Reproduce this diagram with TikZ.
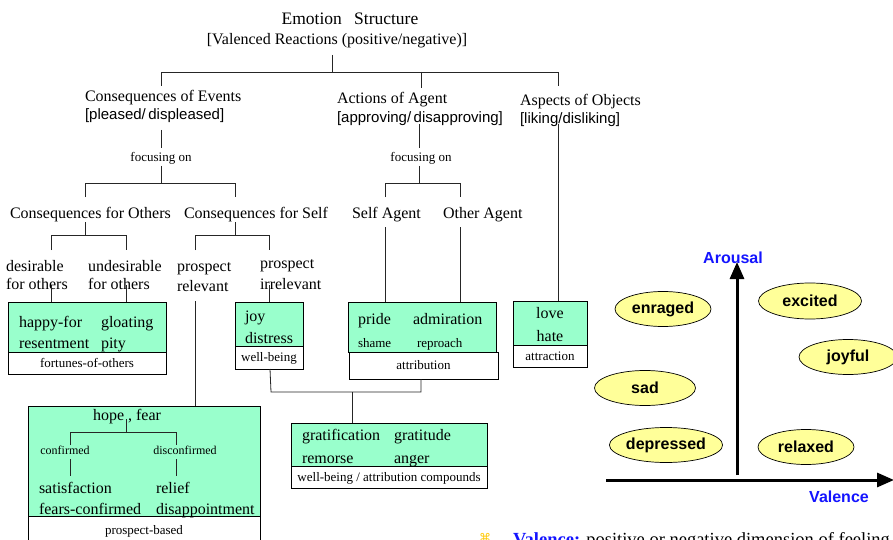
\documentclass[tikz,border=0pt]{standalone}
\usepackage{fontspec}
\setmainfont{Liberation Serif}
\setsansfont{Liberation Sans}
\newfontfamily\symbolfont{DejaVu Sans}
\usetikzlibrary{shapes.geometric,arrows.meta}
\definecolor{boxgreen}{RGB}{153,255,204}
\definecolor{moodyellow}{RGB}{255,255,153}
\definecolor{axisblue}{RGB}{20,20,255}
\definecolor{bulletgold}{RGB}{255,200,0}

\begin{document}
\begin{tikzpicture}[x=1pt,y=-1pt,
  base/.style={inner sep=0pt, outer sep=0pt},
  titletext/.style={base, font=\fontsize{17.5}{20}\selectfont, text height=12.5pt, text depth=2pt},
  tx/.style={base, font=\fontsize{16}{18}\selectfont, text height=12pt, text depth=1.5pt},
  txl/.style={tx, anchor=west},
  sm/.style={base, font=\fontsize{13}{15}\selectfont, text height=10pt, text depth=2pt},
  sml/.style={sm, anchor=west},
  tiny/.style={base, font=\fontsize{12}{14}\selectfont, text height=9pt, text depth=2pt},
  br/.style={base, anchor=west, font=\sffamily\fontsize{15}{17}\selectfont, text height=12pt, text depth=2pt},
  gbox/.style={draw=black, fill=boxgreen, line width=0.8pt, anchor=north west, base},
  wbox/.style={draw=black, fill=white, line width=0.8pt, anchor=north west, base},
  conn/.style={draw=black!85, line width=0.8pt},
  mood/.style={ellipse, draw=black, fill=moodyellow, line width=0.7pt, inner sep=0pt,
    minimum height=35pt, font=\sffamily\bfseries\fontsize{16}{18}\selectfont},
  axis/.style={line width=3pt, -{Triangle[length=17pt,width=14pt]}},
  axlbl/.style={base, font=\sffamily\bfseries\fontsize{16}{18}\selectfont, text=axisblue}
]
\useasboundingbox (0,0) rectangle (893,540);
\fill[white] (0,0) rectangle (893,540);

% ---------- root ----------
\node[titletext] (title) at (350,19) {Emotion\hspace{0.7em}Structure};
\node[tx] (vr) at (337,39) {[Valenced Reactions (positive/negative)]};
\coordinate (rootTop) at (332,55);
\coordinate (rootJ) at (332,72);
\coordinate (evJ) at (161,72);
\coordinate (agJ) at (421,72);
\coordinate (obJ) at (558,72);
\coordinate (evD) at (161,86);
\coordinate (agD) at (421,88);
\coordinate (obD) at (558,86);
\draw[conn] (rootTop) -- (rootJ);
\draw[conn] (evD) -- (evJ) -- (obJ) -- (obD);
\draw[conn] (agJ) -- (agD);

% ---------- three branches ----------
\node[txl] (ev) at (85,96) {Consequences of Events};
\node[br] (evb) at (85,115) {[pleased/\,displeased]};
\node[txl] (ag) at (337,98) {Actions of Agent};
\node[br] (agb) at (337,118) {[approving/\,disapproving]};
\node[txl] (ob) at (520,100) {Aspects of Objects};
\node[br] (obb) at (520,119) {[liking/disliking]};

\node[sm] (foc1) at (161,158) {focusing on};
\node[sm] (foc2) at (421,158) {focusing on};
\coordinate (ev1) at (161,130); \coordinate (ev2) at (161,148);
\coordinate (ev3) at (161,166); \coordinate (ev4) at (161,183);
\coordinate (ag1) at (419,124); \coordinate (ag2) at (419,148);
\coordinate (ag3) at (419,166); \coordinate (ag4) at (419,183);
\draw[conn] (ev1) -- (ev2);
\draw[conn] (ev3) -- (ev4);
\draw[conn] (ag1) -- (ag2);
\draw[conn] (ag3) -- (ag4);

% consequences of events: others / self
\coordinate (othJ) at (85,183); \coordinate (selfJ) at (235,183);
\coordinate (othD) at (85,197); \coordinate (selfD) at (235,197);
\draw[conn] (othD) -- (othJ) -- (selfJ) -- (selfD);
\node[txl] (oth) at (10,213) {Consequences for Others};
\node[txl] (self) at (184,213) {Consequences for Self};

% actions of agent: self / other
\coordinate (saJ) at (385,183); \coordinate (oaJ) at (460,183);
\coordinate (saD) at (385,197); \coordinate (oaD) at (460,197);
\draw[conn] (saD) -- (saJ) -- (oaJ) -- (oaD);
\node[txl] (sa) at (352,213) {Self Agent};
\node[txl] (oa) at (443,213) {Other Agent};

% ---------- fourth level ----------
\coordinate (o0) at (85,222); \coordinate (o1) at (85,235);
\coordinate (oL) at (51,235); \coordinate (oR) at (126,235);
\coordinate (oLd) at (51,250); \coordinate (oRd) at (126,250);
\draw[conn] (o0) -- (o1);
\draw[conn] (oLd) -- (oL) -- (oR) -- (oRd);
\coordinate (s0) at (235,222); \coordinate (s1) at (235,235);
\coordinate (sL) at (195,235); \coordinate (sR) at (269,235);
\coordinate (sLd) at (195,250); \coordinate (sRd) at (269,250);
\draw[conn] (s0) -- (s1);
\draw[conn] (sLd) -- (sL) -- (sR) -- (sRd);

\node[txl] (des1) at (6,266) {desirable};
\node[txl] (des2) at (6,284) {for others};
\node[txl] (und1) at (88,266) {undesirable};
\node[txl] (und2) at (88,284) {for others};
\node[txl] (pr1) at (177,266) {prospect};
\node[txl] (pr2) at (177,286) {relevant};
\node[txl] (pi1) at (260,263) {prospect};
\node[txl] (pi2) at (260,284) {irrelevant};

% ---------- fortunes-of-others ----------
\node[gbox, minimum width=158pt, minimum height=50pt] (foG) at (8,302) {};
\node[wbox, minimum width=158pt, minimum height=22pt] (foW) at (8,352) {};
\node[txl] at (19,322) {happy-for};
\node[txl] at (101,322) {gloating};
\node[txl] at (19,343) {resentment};
\node[txl] at (101,343) {pity};
\node[sm] (foL) at (foW.center) {fortunes-of-others};
\coordinate (d1) at (51,285); \coordinate (d2) at (126,285);
\draw[conn] (d1) -- (d1 |- foG.north);
\draw[conn] (d2) -- (d2 |- foG.north);

% ---------- well-being ----------
\node[gbox, minimum width=68pt, minimum height=44pt] (wbG) at (235,302) {};
\node[wbox, minimum width=68pt, minimum height=23pt] (wbW) at (235,346) {};
\node[txl] at (245,316) {joy};
\node[txl] at (245,338) {distress};
\node[sm] (wbL) at (wbW.center) {well-being};
\coordinate (d3) at (269,285);
\draw[conn] (d3) -- (d3 |- wbG.north);

% ---------- attribution ----------
\node[gbox, minimum width=148pt, minimum height=50pt] (atG) at (348,302) {};
\node[wbox, minimum width=149pt, minimum height=27pt] (atW) at (349,352) {};
\node[txl] at (358,319) {pride};
\node[txl] at (413,319) {admiration};
\node[sml] at (358,343) {shame};
\node[sml] at (417,343) {reproach};
\node[sm] (atL) at (atW.center) {attribution};
\coordinate (d4) at (385,227); \coordinate (d5) at (460,227);
\draw[conn] (d4) -- (d4 |- atG.north);
\draw[conn] (d5) -- (d5 |- atG.north);

% ---------- attraction ----------
\node[gbox, minimum width=74pt, minimum height=44pt] (lvG) at (513,301) {};
\node[wbox, minimum width=74pt, minimum height=22pt] (lvW) at (513,345) {};
\node[tx] at (550,313) {love};
\node[tx] at (550,336) {hate};
\node[sm] (lvL) at (lvW.center) {attraction};
\coordinate (d6) at (558,124);
\draw[conn] (d6) -- (d6 |- lvG.north);

% ---------- well-being / attribution compounds ----------
\coordinate (cJ1) at (271,392); \coordinate (cJ2) at (421,392);
\coordinate (cJm) at (352,392);
\draw[conn] (wbW.south -| 270,0) -- (cJ1) -- (cJ2) -- (atW.south -| cJ2);
\node[gbox, minimum width=196pt, minimum height=43pt] (cpG) at (291,423) {};
\node[wbox, minimum width=196pt, minimum height=22pt] (cpW) at (291,466) {};
\node[txl] at (302,435) {gratification};
\node[txl] at (394,435) {gratitude};
\node[txl] at (302,458) {remorse};
\node[txl] at (394,458) {anger};
\node[sm] (cpL) at (cpW.center) {well-being / attribution compounds};
\draw[conn] (cJm) -- (cJm |- cpG.north);

% ---------- prospect-based ----------
\node[gbox, minimum width=232pt, minimum height=110pt] (pbG) at (28,406) {};
\node[wbox, minimum width=232pt, minimum height=30pt] (pbW) at (28,516) {};
\coordinate (d7) at (195,301);
\draw[conn] (d7) -- (d7 |- pbG.north);
\node[tx] (hf) at (127,415) {hope , fear};
\coordinate (h0) at (126,419); \coordinate (h1) at (126,432);
\coordinate (hL) at (70,432); \coordinate (hR) at (176,432);
\coordinate (hLd) at (70,445); \coordinate (hRd) at (176,445);
\draw[conn] (h0) -- (h1);
\draw[conn] (hLd) -- (hL) -- (hR) -- (hRd);
\node[tiny] (cf) at (65,451) {confirmed};
\node[tiny] (dcf) at (185,451) {disconfirmed};
\coordinate (c1) at (70,459); \coordinate (c2) at (70,476);
\coordinate (c3) at (176,459); \coordinate (c4) at (176,476);
\draw[conn] (c1) -- (c2);
\draw[conn] (c3) -- (c4);
\node[txl] at (39,488) {satisfaction};
\node[txl] at (156,488) {relief};
\node[txl] at (39,509) {fears-confirmed};
\node[txl] at (156,509) {disappointment};
\node[sm] (pbL) at (144,530) {prospect-based};

% ---------- valence / arousal plane ----------
\coordinate (yFoot) at (737,475); \coordinate (yTip) at (737,262);
\coordinate (xFoot) at (606,480); \coordinate (xTip) at (894,480);
\draw[axis] (yFoot) -- (yTip);
\draw[axis] (xFoot) -- (xTip);
\node[axlbl] (arousal) at (733,258) {Arousal};
\node[axlbl] (valence) at (839,497) {Valence};

\node[mood, minimum width=96pt] (enraged) at (663,309) {enraged};
\node[mood, minimum width=103pt, minimum height=36pt] (excited) at (810,301) {excited};
\node[mood, minimum width=98pt] (joyful) at (848,357) {joyful};
\node[mood, minimum width=101pt] (sad) at (645,388) {sad};
\node[mood, minimum width=104pt] (depressed) at (666,445) {depressed};
\node[mood, minimum width=96pt] (relaxed) at (806,447) {relaxed};

% ---------- definition line ----------
\node[base, anchor=base, font=\symbolfont\fontsize{12}{14}\selectfont, text=bulletgold] (bullet) at (485,542) {⌘};
\node[base, anchor=base west, font=\fontsize{18.5}{21}\selectfont] (def) at (513,545)
  {\textcolor{axisblue}{\textbf{Valence:}} positive or negative dimension of feeling};
\end{tikzpicture}
\end{document}
